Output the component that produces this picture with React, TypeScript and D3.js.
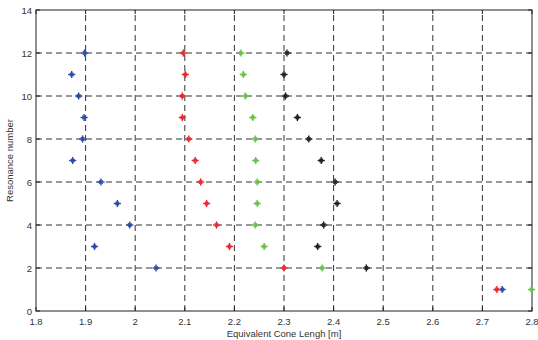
import React from "react";
import * as d3 from "d3";

const resonance = [1, 2, 3, 4, 5, 6, 7, 8, 9, 10, 11, 12];
const blueLen = [2.740, 2.042, 1.918, 1.989, 1.964, 1.931, 1.874, 1.894, 1.897, 1.886, 1.872, 1.898];
const redLen = [2.729, 2.300, 2.190, 2.164, 2.144, 2.132, 2.121, 2.108, 2.095, 2.095, 2.101, 2.097];
const greenLen = [2.799, 2.377, 2.260, 2.242, 2.246, 2.246, 2.243, 2.242, 2.237, 2.222, 2.218, 2.213];
const blackRes = [2, 3, 4, 5, 6, 7, 8, 9, 10, 11, 12];
const blackLen = [2.466, 2.368, 2.380, 2.407, 2.403, 2.375, 2.350, 2.327, 2.303, 2.300, 2.306];
const xTicks = [1.8, 1.9, 2, 2.1, 2.2, 2.3, 2.4, 2.5, 2.6, 2.7, 2.8];
const yTicks = [0, 2, 4, 6, 8, 10, 12, 14];

const series = [
  { name: "blue", color: "#2b4da6", xs: blueLen, ys: resonance },
  { name: "red", color: "#ec2a2e", xs: redLen, ys: resonance },
  { name: "green", color: "#6cc24a", xs: greenLen, ys: resonance },
  { name: "black", color: "#222222", xs: blackLen, ys: blackRes },
];

export default function App() {
  const W = 538, H = 340;
  const L = 36, R = 532, T = 10, B = 311;
  const x = d3.scaleLinear().domain([1.8, 2.8]).range([L, R]);
  const y = d3.scaleLinear().domain([0, 14]).range([B, T]);
  const fmt = (v: number) => (Number.isInteger(v) ? String(v) : v.toFixed(1));
  const s = 3.6;
  const d = 1.7;
  return (
    <svg width={W} height={H} style={{ position: "absolute", left: 0, top: 0, background: "#fff" }}
      fontFamily="Liberation Sans, Arial, sans-serif">
      <rect x={0} y={0} width={W} height={H} fill="#fff" />
      {xTicks.slice(1, -1).map((t) => (
        <line key={"gx" + t} x1={x(t)} x2={x(t)} y1={B} y2={T} stroke="#333" strokeWidth={1} strokeDasharray="6,4" />
      ))}
      {yTicks.slice(1, -1).map((t) => (
        <line key={"gy" + t} x1={L} x2={R} y1={y(t)} y2={y(t)} stroke="#333" strokeWidth={1} strokeDasharray="6,4" />
      ))}
      <rect x={L} y={T} width={R - L} height={B - T} fill="none" stroke="#222" strokeWidth={1} />
      {xTicks.map((t) => (
        <g key={"tx" + t}>
          <line x1={x(t)} x2={x(t)} y1={B} y2={B - 4} stroke="#222" />
          <line x1={x(t)} x2={x(t)} y1={T} y2={T + 4} stroke="#222" />
          <text x={x(t)} y={B + 14} textAnchor="middle" fontSize={9.5} fill="#333">{fmt(t)}</text>
        </g>
      ))}
      {yTicks.map((t) => (
        <g key={"ty" + t}>
          <line x1={L} x2={L + 4} y1={y(t)} y2={y(t)} stroke="#222" />
          <line x1={R} x2={R - 4} y1={y(t)} y2={y(t)} stroke="#222" />
          <text x={L - 4} y={y(t) + 3.5} textAnchor="end" fontSize={9.5} fill="#333">{t}</text>
        </g>
      ))}
      {series.map((sr) =>
        sr.xs.map((v, i) => {
          const cx = x(v), cy = y(sr.ys[i]);
          return (
            <g key={sr.name + i} stroke={sr.color} strokeWidth={1.4}>
              <line x1={cx - s} x2={cx + s} y1={cy} y2={cy} />
              <line x1={cx} x2={cx} y1={cy - s} y2={cy + s} />
              <line x1={cx - d} x2={cx + d} y1={cy - d} y2={cy + d} />
              <line x1={cx - d} x2={cx + d} y1={cy + d} y2={cy - d} />
            </g>
          );
        })
      )}
      <text x={(L + R) / 2} y={337} textAnchor="middle" fontSize={9.5} fill="#333">Equivalent Cone Lengh [m]</text>
      <text transform={`translate(13,${(T + B) / 2}) rotate(-90)`} textAnchor="middle" fontSize={9.5} fill="#333">Resonance number</text>
    </svg>
  );
}
